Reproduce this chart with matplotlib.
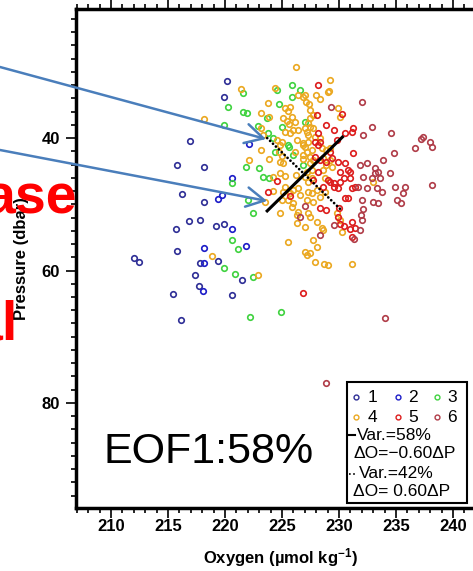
import matplotlib
matplotlib.use("Agg")
import matplotlib.pyplot as plt
from matplotlib.lines import Line2D
from matplotlib.patches import Rectangle
from matplotlib.ticker import MultipleLocator

plt.rcParams['font.family'] = ['Liberation Sans', 'DejaVu Sans']
plt.rcParams['mathtext.fontset'] = 'custom'
plt.rcParams['mathtext.rm'] = 'Liberation Sans:bold'
plt.rcParams['mathtext.it'] = 'Liberation Sans:bold'
plt.rcParams['mathtext.default'] = 'rm'

W, H = 473, 571

# oxygen (umol/kg) and pressure (dbar) per cluster
g1_o = [220.2, 219.9, 216.9, 215.8, 218.2, 216.2, 218.2, 216.8, 217.8, 215.7, 219.2, 219.9,
        215.8, 212.0, 212.5, 217.8, 219.4, 217.4, 217.7, 215.4, 220.6, 216.1, 221.5]
g1_p = [31.4, 33.8, 40.5, 44.1, 44.4, 48.5, 49.7, 52.5, 52.4, 53.7, 53.3, 53.0,
        57.1, 58.1, 58.7, 58.9, 58.6, 60.7, 62.4, 63.6, 63.7, 67.5, 61.5]

g2_o = [220.6, 222.1, 219.4, 219.7, 218.2, 218.2, 220.6, 221.8, 218.1]
g2_p = [46.0, 40.9, 49.2, 48.6, 56.6, 58.9, 53.7, 56.3, 63.1]

g3_o = [220.3, 219.9, 220.6, 220.6, 221.1, 219.9, 220.9, 221.6, 221.6, 221.9, 224.6, 225.9,
        226.6, 225.9, 224.7, 223.7, 222.9, 225.0, 227.0, 223.8, 224.2, 225.6, 224.4, 226.0,
        221.8, 223.0, 223.3, 223.9, 226.8, 222.0, 222.5, 222.5, 222.2, 224.9, 225.5]
g3_p = [35.3, 38.0, 46.8, 55.4, 56.8, 59.6, 60.5, 33.2, 36.1, 36.2, 32.7, 32.0,
        32.7, 33.8, 34.9, 37.0, 38.2, 38.3, 37.6, 39.2, 40.0, 41.4, 42.1, 42.6,
        44.4, 44.5, 45.9, 46.1, 44.1, 49.4, 51.3, 61.0, 67.0, 66.3, 41.1]

g4_o = [226.2, 229.2, 229.1, 221.4, 224.4, 228.0, 228.3, 227.0, 223.8, 227.1, 227.4, 225.3,
        225.7, 225.5, 223.2, 227.5, 227.7, 223.9, 225.1, 225.4, 225.9, 225.6, 226.1, 230.1,
        229.9, 227.5, 227.3, 223.2, 223.3, 225.3, 225.7, 226.0, 227.2, 227.7, 224.6, 225.0,
        224.8, 226.3, 226.8, 227.0, 227.3, 223.2, 224.7, 225.0, 226.1, 226.8, 227.2, 227.5,
        222.1, 223.9, 224.8, 225.1, 226.8, 227.5, 227.7, 224.2, 224.8, 225.3, 226.2, 227.0,
        227.3, 227.6, 228.6, 228.9, 229.2, 225.3, 225.1, 225.7, 226.0, 227.3, 227.6, 228.1,
        228.3, 228.8, 226.4, 226.6, 224.2, 225.0, 225.5, 226.0, 227.2, 227.7, 225.9, 224.8,
        226.4, 227.3, 227.5, 229.8, 230.1, 228.1, 226.3, 227.0, 228.6, 225.5, 227.7, 228.1,
        227.0, 227.5, 227.2, 227.9, 228.7, 229.0, 231.1, 230.3, 233.0, 218.9, 218.2, 222.9,
        223.5, 226.3, 226.4, 226.8, 229.0, 226.4, 227.0, 227.5, 227.3, 227.9, 228.3, 226.8,
        227.6, 228.5, 228.9, 229.2, 229.4, 227.2, 227.6, 228.6, 228.8, 228.5]
g4_p = [29.3, 31.2, 32.9, 32.6, 32.4, 33.5, 34.1, 33.5, 34.7, 34.6, 34.9, 35.5,
        35.3, 35.9, 36.2, 35.8, 36.5, 36.8, 37.0, 37.4, 36.8, 37.8, 37.6, 36.8,
        35.5, 37.0, 37.7, 38.5, 39.5, 39.1, 39.2, 38.8, 39.1, 38.5, 40.3, 40.6,
        41.1, 40.3, 40.8, 41.4, 40.6, 41.8, 42.1, 42.7, 42.1, 42.6, 42.1, 42.9,
        43.3, 43.2, 43.6, 43.8, 43.2, 43.8, 43.3, 45.9, 45.3, 45.7, 45.6, 45.9,
        46.6, 46.0, 43.0, 44.1, 43.3, 47.4, 48.2, 48.3, 47.9, 48.2, 48.3, 47.9,
        48.9, 48.2, 47.6, 48.6, 48.0, 49.4, 49.4, 49.8, 49.4, 49.7, 50.4, 51.3,
        51.2, 51.3, 51.9, 51.3, 52.4, 52.7, 52.8, 53.4, 53.9, 55.7, 55.4, 56.5,
        57.2, 57.4, 57.7, 58.7, 59.0, 59.2, 59.0, 54.2, 46.6, 57.8, 37.1, 60.7,
        49.7, 51.6, 33.5, 33.8, 33.1, 38.8, 38.5, 38.3, 39.5, 39.8, 40.0, 41.1,
        41.8, 41.5, 41.8, 41.5, 44.4, 45.1, 44.8, 44.8, 46.0, 53.6]

g5_o = [228.2, 228.1, 230.3, 228.9, 229.6, 231.2, 231.1, 230.5, 228.2, 228.3, 227.9, 229.8,
        228.2, 231.2, 229.2, 229.4, 228.9, 228.3, 229.9, 230.5, 230.8, 230.1, 231.0, 230.4,
        231.0, 231.4, 229.6, 227.7, 228.2, 229.0, 229.2, 229.6, 230.1, 231.1, 224.6, 223.8,
        228.3, 228.9, 230.0, 229.9, 230.1, 230.4, 231.1, 231.4, 231.1, 226.8, 225.7, 227.9,
        230.5, 230.8, 229.9, 228.6, 231.0]
g5_p = [32.0, 36.5, 36.4, 38.0, 38.8, 38.5, 39.1, 39.2, 39.2, 40.6, 40.6, 40.3,
        41.1, 42.3, 42.1, 43.0, 43.6, 43.3, 43.6, 43.8, 44.8, 45.1, 45.1, 46.0,
        46.0, 47.4, 47.4, 46.3, 45.1, 46.3, 46.6, 46.8, 46.6, 47.6, 46.5, 48.2,
        50.6, 50.9, 50.6, 51.9, 52.9, 53.3, 52.7, 53.6, 54.9, 63.4, 48.8, 42.9,
        49.1, 49.1, 47.6, 47.4, 53.8]

g6_o = [232.0, 229.3, 232.9, 232.1, 234.6, 237.4, 237.2, 238.0, 238.2, 236.7, 234.8, 233.9,
        232.5, 231.8, 233.2, 233.4, 232.1, 232.9, 233.6, 234.5, 231.7, 232.5, 233.3, 233.8,
        234.9, 235.8, 235.6, 238.2, 232.0, 232.1, 231.9, 233.0, 233.4, 235.1, 235.4, 232.0,
        231.8, 228.3, 231.3, 227.0, 226.6, 234.0, 228.9, 229.6, 233.2]
g6_p = [34.6, 35.3, 38.3, 39.5, 39.2, 39.8, 40.1, 40.6, 41.4, 41.5, 42.3, 43.3,
        43.8, 44.1, 44.5, 45.1, 45.9, 46.0, 46.0, 45.3, 47.4, 47.6, 47.6, 48.1,
        47.4, 47.4, 48.3, 47.1, 49.4, 50.7, 51.6, 49.7, 49.8, 49.4, 49.8, 52.4,
        53.9, 54.7, 55.3, 50.3, 51.9, 67.2, 77.0, 53.1, 45.3]

colors = ['#2e2e96', '#1c1cc8', '#3fd23f', '#eba820', '#dd1c1c', '#b03c48']
groups = [(g1_o, g1_p), (g2_o, g2_p), (g3_o, g3_p), (g4_o, g4_p), (g5_o, g5_p), (g6_o, g6_p)]

# EOF axes through the cloud centre
eof1_o = [223.7, 230.3]
eof1_p = [51.0, 39.85]
eof2_o = [223.7, 230.1]
eof2_p = [40.0, 50.7]

# arrow tips (data) and their start height on the left edge (pixels from top)
tip_o = [223.6, 223.7]
tip_p = [40.15, 49.5]
start_y = [67, 150]


def fpx(x, y):
    return x / W, 1 - y / H


fig = plt.figure(figsize=(W / 100, H / 100), dpi=100)
ax = fig.add_axes([76 / W, 1 - 508 / H, 408 / W, 499 / H])

for (o, p), c in zip(groups, colors):
    ax.plot(o, p, 'o', ls='none', mfc='none', mec=c, ms=4, mew=1.2, zorder=2)

ax.plot(eof1_o, eof1_p, color='k', lw=2.2, zorder=3)
ax.plot(eof2_o, eof2_p, color='k', lw=2, ls=(0, (0.01, 1.45)),
        dash_capstyle='round', zorder=3)

ax.set_xlim(206.93, 242.72)
ax.set_ylim(95.86, 20.51)
ax.set_xticks([210, 215, 220, 225, 230, 235, 240])
ax.xaxis.set_minor_locator(MultipleLocator(1))
ax.set_yticks([40, 60, 80])
ax.yaxis.set_minor_locator(MultipleLocator(2))
ax.tick_params(which='both', direction='out', top=True, right=False, width=1.2)
ax.tick_params(which='major', length=7, labelsize=12)
ax.tick_params(which='minor', length=3.5)
ax.tick_params(axis='x', pad=1)
ax.tick_params(axis='y', pad=4.5)
for lab in ax.get_xticklabels() + ax.get_yticklabels():
    lab.set_fontweight('bold')
for s in ax.spines.values():
    s.set_linewidth(2.5)

ax.set_xlabel('Oxygen (\u00b5mol kg$^{-1}$)', fontsize=12, fontweight='bold')
ax.set_ylabel('Pressure (dbar)', fontsize=12, fontweight='bold')
ax.xaxis.set_label_coords(0.5, -0.076)
ax.yaxis.set_label_coords(-0.115, 0.5)

for to, tp, sy in zip(tip_o, tip_p, start_y):
    ax.annotate('', xy=(to, tp), xycoords='data', xytext=fpx(0, sy),
                textcoords='figure fraction', annotation_clip=False, zorder=6,
                arrowprops=dict(arrowstyle='->,head_length=0.65,head_width=0.35',
                                color='#4a7ebb', lw=1.8, shrinkA=0, shrinkB=0,
                                mutation_scale=20))

# legend box
x0, y0 = fpx(347, 503)
fig.add_artist(Rectangle((x0, y0), 120 / W, 121 / H, transform=fig.transFigure,
                         facecolor='white', edgecolor='black', lw=1.5, zorder=4))
mark_x = [356, 398, 437]
num_x = [368, 408, 447]
for row, yy in enumerate([397, 417]):
    for k in range(3):
        gi = row * 3 + k
        fig.add_artist(Line2D([mark_x[k] / W], [1 - yy / H], transform=fig.transFigure,
                              marker='o', ls='none', mfc='none', mec=colors[gi],
                              ms=3.5, mew=1, zorder=5))
        fig.text(num_x[k] / W, 1 - yy / H, str(gi + 1), fontsize=12.5,
                 ha='left', va='center', zorder=5)
fig.add_artist(Line2D([349 / W, 355 / W], [1 - 435 / H] * 2, transform=fig.transFigure,
                      color='k', lw=1.5, zorder=5))
fig.add_artist(Line2D([349 / W, 357 / W], [1 - 474 / H] * 2, transform=fig.transFigure,
                      color='k', lw=1.2, ls=(0, (1, 1.5)), zorder=5))
fig.text(357 / W, 1 - 436 / H, 'Var.=58%', fontsize=12.5, ha='left', va='center', zorder=5)
fig.text(353 / W, 1 - 453 / H, '\u0394O=\u22120.60\u0394P', fontsize=12.5,
         ha='left', va='center', zorder=5)
fig.text(359 / W, 1 - 474 / H, 'Var.=42%', fontsize=12.5, ha='left', va='center', zorder=5)
fig.text(353 / W, 1 - 492 / H, '\u0394O= 0.60\u0394P', fontsize=12.5,
         ha='left', va='center', zorder=5)

fig.text(*fpx(103, 463), 'EOF1:58%', fontsize=31, ha='left', va='baseline', zorder=5)

# red slide text fragments
fig.text(*fpx(77, 213), 'ase', color='#ff0000', fontsize=40, fontweight='bold',
         ha='right', va='baseline', zorder=7)
fig.text(*fpx(18, 340), 'al', color='#ff0000', fontsize=40, fontweight='bold',
         ha='right', va='baseline', zorder=7)

fig.savefig('out.png', dpi=100)
